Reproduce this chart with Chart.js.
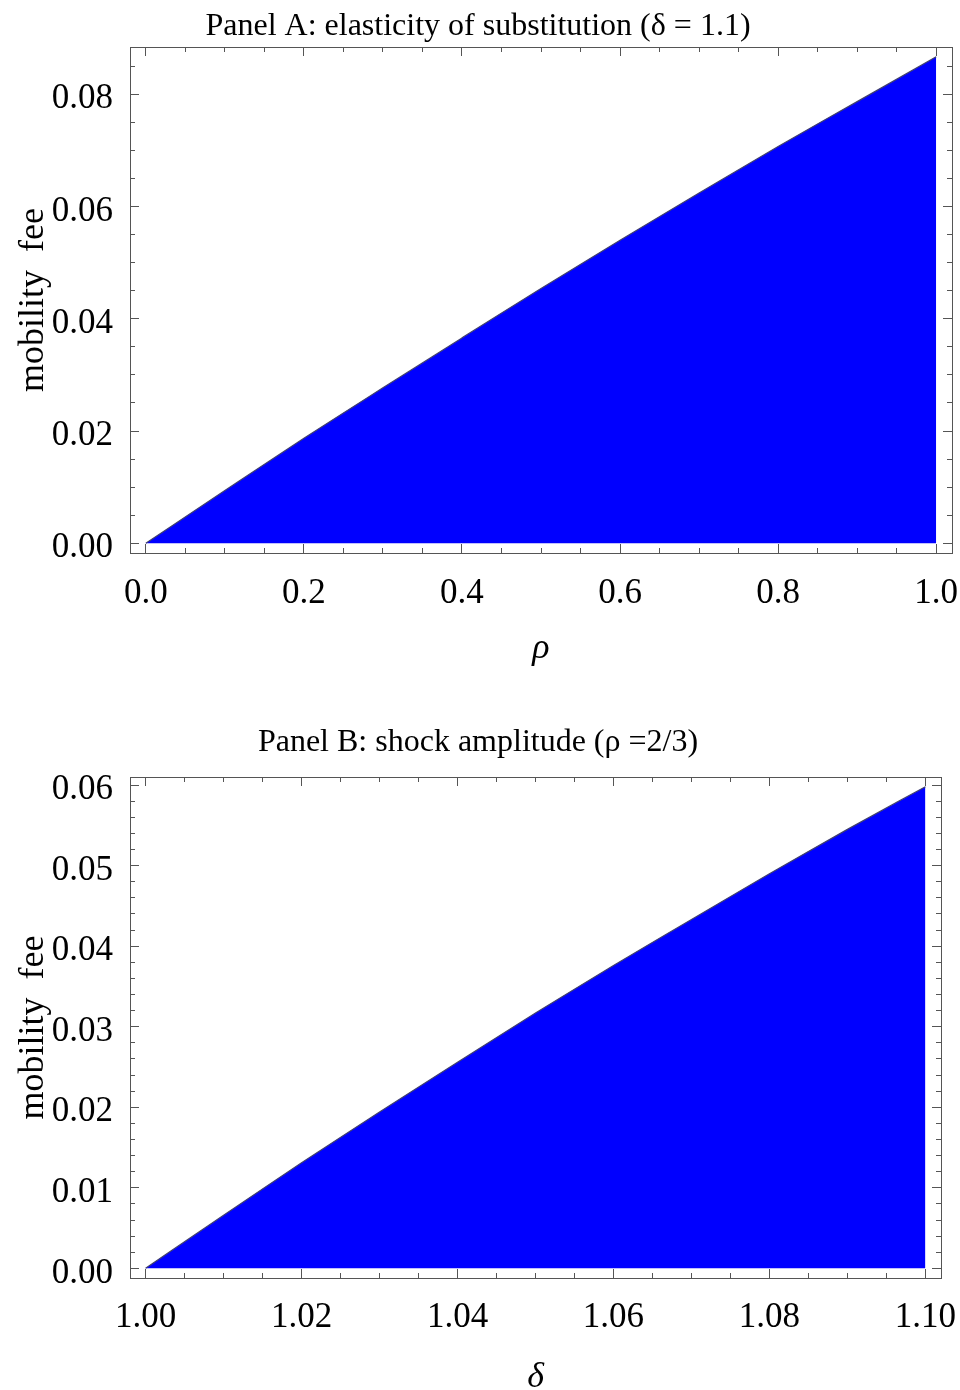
<!DOCTYPE html>
<html><head><meta charset="utf-8">
<script src="https://cdn.jsdelivr.net/npm/chart.js@4.4.1/dist/chart.umd.min.js"></script>
<style>
html,body{margin:0;padding:0;background:#fff;}
#wrapA{position:absolute;left:0;top:0;width:960px;height:695px;}
#wrapB{position:absolute;left:0;top:695px;width:960px;height:695px;}
canvas{display:block;}
</style></head><body>
<div id="wrapA"><canvas id="cA" width="960" height="695"></canvas></div>
<div id="wrapB"><canvas id="cB" width="960" height="695"></canvas></div>
<script>
// ---------------- data ----------------
const A_RHO = [0.0, 0.1, 0.2, 0.3, 0.4, 0.5, 0.6, 0.7, 0.8, 0.9, 1.0];
const A_FEE = [0.0, 0.0094, 0.0187, 0.0277, 0.0366, 0.0454, 0.0540, 0.0624, 0.0707, 0.0787, 0.0867];
const B_DELTA = [1.00, 1.01, 1.02, 1.03, 1.04, 1.05, 1.06, 1.07, 1.08, 1.09, 1.10];
const B_FEE = [0.0, 0.0066, 0.0131, 0.0194, 0.0256, 0.0317, 0.0376, 0.0433, 0.0490, 0.0545, 0.0598];

const A_X_TICK_LABELS = ['0.0', '0.2', '0.4', '0.6', '0.8', '1.0'];
const A_Y_TICK_LABELS = ['0.00', '0.02', '0.04', '0.06', '0.08'];
const B_X_TICK_LABELS = ['1.00', '1.02', '1.04', '1.06', '1.08', '1.10'];
const B_Y_TICK_LABELS = ['0.00', '0.01', '0.02', '0.03', '0.04', '0.05', '0.06'];

const A_TITLE = 'Panel A: elasticity of substitution (\u03B4 = 1.1)';
const B_TITLE = 'Panel B: shock amplitude (\u03C1 =2/3)';
const A_X_TITLE = '\u03C1';
const B_X_TITLE = '\u03B4';
const Y_TITLE = 'mobility  fee';

// ---------------- helpers ----------------
const SERIF = "'Liberation Serif', 'Times New Roman', serif";
const FRAME = '#555555';

function minorValues(min, max, step) {
  const out = [];
  const n0 = Math.ceil(min / step - 1e-9), n1 = Math.floor(max / step + 1e-9);
  for (let k = n0; k <= n1; k++) out.push(+(k * step).toFixed(6));
  return out;
}

const titlePlugin = {
  id: 'panelTitle',
  afterDraw(chart, args, opts) {
    const ctx = chart.ctx;
    ctx.save();
    ctx.font = opts.font;
    ctx.fillStyle = '#000';
    ctx.textAlign = 'center';
    ctx.textBaseline = 'alphabetic';
    ctx.fillText(opts.text, opts.x, opts.y);
    ctx.restore();
  }
};

function makeChart(id, c) {
  const majX = c.xLabels.map(Number), majY = c.yLabels.map(Number);
  const minX = minorValues(c.xMin, c.xMax, c.xMinor);
  const minY = minorValues(c.yMin, c.yMax, c.yMinor);

  function ax(kind, pos, major, size, extra) {
    const isX = kind === 'x';
    const vals = isX ? (major ? majX : minX) : (major ? majY : minY);
    const base = {
      type: 'linear', axis: kind, position: pos,
      min: isX ? c.xMin : c.yMin, max: isX ? c.xMax : c.yMax,
      weight: major ? 0 : -1,
      afterBuildTicks: s => { s.ticks = vals.map(v => ({ value: v })); },
      afterFit: s => {
        if (s.isHorizontal()) s.height = size; else s.width = size;
        s.paddingLeft = 0; s.paddingRight = 0; s.paddingTop = 0; s.paddingBottom = 0;
      },
      grid: {
        display: true, drawOnChartArea: false, drawTicks: true,
        tickLength: major ? -9 : -5, tickColor: FRAME, tickWidth: 1
      },
      border: { display: major, color: FRAME, width: 1 },
      ticks: { display: false, autoSkip: false, maxRotation: 0, minRotation: 0 }
    };
    return Object.assign(base, extra || {});
  }

  const tickFont = { family: SERIF, size: 35, lineHeight: 1 };
  const scales = {
    x: ax('x', 'bottom', true, c.bottomH, {
      ticks: { display: true, autoSkip: false, maxRotation: 0, minRotation: 0, color: '#000',
        font: tickFont, padding: c.xPad, callback: (v, i) => c.xLabels[i] },
      title: { display: true, text: c.xTitle, color: '#000',
        font: { family: SERIF, size: 36, style: 'italic', lineHeight: 1 },
        padding: { top: 0, bottom: c.xTitlePad } }
    }),
    xbm: ax('x', 'bottom', false, 0),
    xt: ax('x', 'top', true, c.topH),
    xtm: ax('x', 'top', false, 0),
    y: ax('y', 'left', true, c.leftW, {
      ticks: { display: true, autoSkip: false, color: '#000', font: tickFont,
        padding: 26, labelOffset: 5, callback: (v, i) => c.yLabels[i] },
      title: { display: true, text: Y_TITLE, color: '#000',
        font: { family: SERIF, size: 36, lineHeight: 1 },
        padding: { top: 16, bottom: 0 } }
    }),
    ylm: ax('y', 'left', false, 0),
    yr: ax('y', 'right', true, c.rightW),
    yrm: ax('y', 'right', false, 0)
  };

  return new Chart(document.getElementById(id), {
    type: 'line',
    data: {
      datasets: [{
        data: c.xs.map((x, i) => ({ x: x, y: c.ys[i] })),
        xAxisID: 'x', yAxisID: 'y',
        borderColor: '#40406e', borderWidth: 1.2,
        backgroundColor: '#0000ff', fill: 'origin',
        pointRadius: 0, cubicInterpolationMode: 'monotone'
      }]
    },
    options: {
      responsive: false, animation: false, devicePixelRatio: 1,
      layout: { padding: 0 },
      plugins: {
        legend: { display: false }, tooltip: { enabled: false }, title: { display: false },
        panelTitle: { text: c.title, x: 478, y: c.titleY, font: '32px ' + SERIF }
      },
      scales: scales
    },
    plugins: [titlePlugin]
  });
}

makeChart('cA', {
  xs: A_RHO, ys: A_FEE, xLabels: A_X_TICK_LABELS, yLabels: A_Y_TICK_LABELS,
  xMin: -0.02, xMax: 1.02, yMin: -0.00173, yMax: 0.08843,
  xMinor: 0.05, yMinor: 0.005,
  topH: 47, bottomH: 142, leftW: 130, rightW: 8,
  xPad: 32, xTitle: A_X_TITLE, xTitlePad: 28, title: A_TITLE, titleY: 35
});

makeChart('cB', {
  xs: B_DELTA, ys: B_FEE, xLabels: B_X_TICK_LABELS, yLabels: B_Y_TICK_LABELS,
  xMin: 0.998, xMax: 1.102, yMin: -0.0012, yMax: 0.0610,
  xMinor: 0.005, yMinor: 0.002,
  topH: 82, bottomH: 112, leftW: 130, rightW: 19,
  xPad: 31, xTitle: B_X_TITLE, xTitlePad: -6, title: B_TITLE, titleY: 56
});
</script>
</body></html>
